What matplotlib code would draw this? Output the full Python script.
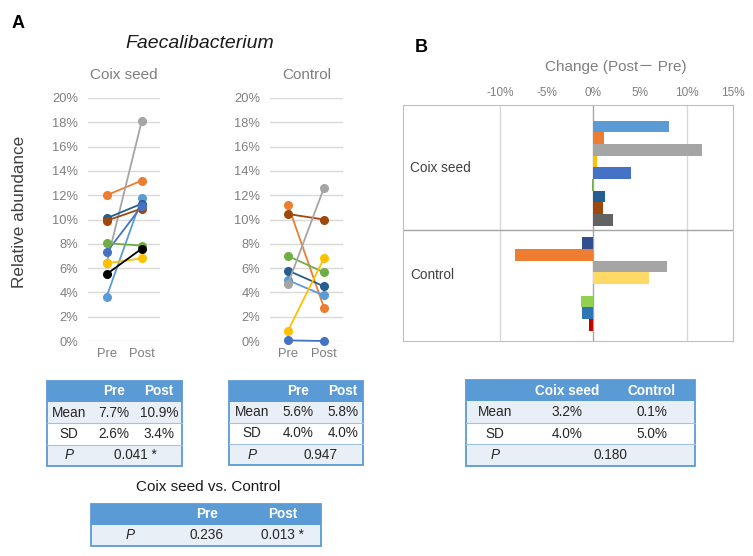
import numpy as np
import matplotlib
matplotlib.use('Agg')
import matplotlib.pyplot as plt
from matplotlib.patches import Rectangle

plt.rcParams['font.family'] = ['Liberation Sans', 'Noto Sans CJK JP', 'DejaVu Sans']

W, H = 753, 556

# 数据：Pre / Post 相对丰度 (%)
coix_colors = ['#ed7d31', '#a5a5a5', '#5b9bd5', '#255e91', '#9e480e', '#4472c4', '#70ad47', '#ffc000', '#000000']
coix_pre = [12.0, 6.4, 3.65, 10.1, 9.9, 7.3, 8.05, 6.4, 5.5]
coix_post = [13.2, 18.1, 11.75, 11.3, 10.9, 11.1, 7.85, 6.8, 7.6]

ctrl_colors = ['#ed7d31', '#9e480e', '#70ad47', '#255e91', '#5b9bd5', '#a5a5a5', '#ffc000', '#4472c4']
ctrl_pre = [11.2, 10.45, 7.0, 5.8, 5.0, 4.7, 0.85, 0.05]
ctrl_post = [2.75, 10.0, 5.65, 4.5, 3.75, 12.6, 6.8, 0.0]

time_labels = ['Pre', 'Post']
yticks_a = [0, 2, 4, 6, 8, 10, 12, 14, 16, 18, 20]

# 变化量 (Post - Pre)
coix_change = [8.07, 1.14, 11.7, 0.43, 4.0, -0.18, 1.29, 1.0, 2.07]
coix_change_colors = ['#5b9bd5', '#ed7d31', '#a5a5a5', '#ffc000', '#4472c4', '#70ad47', '#255e91', '#9e480e', '#636363']
ctrl_change = [-1.18, -8.4, 7.93, 5.96, 0.0, -1.36, -1.25, -0.46]
ctrl_change_colors = ['#2f4f8f', '#ed7d31', '#a5a5a5', '#ffd966', '#5b9bd5', '#92d050', '#2e75b6', '#c00000']
xticks_b = [-10, -5, 0, 5, 10, 15]

# 表格
tab_coix = [['', 'Pre', 'Post'], ['Mean', '7.7%', '10.9%'], ['SD', '2.6%', '3.4%'], ['P', '0.041 *']]
tab_ctrl = [['', 'Pre', 'Post'], ['Mean', '5.6%', '5.8%'], ['SD', '4.0%', '4.0%'], ['P', '0.947']]
tab_vs = [['', 'Pre', 'Post'], ['P', '0.236', '0.013 *']]
tab_change = [['', 'Coix seed', 'Control'], ['Mean', '3.2%', '0.1%'], ['SD', '4.0%', '5.0%'], ['P', '0.180']]

fig = plt.figure(figsize=(W / 100, H / 100), dpi=100)
bg = fig.add_axes([0, 0, 1, 1])
bg.set_xlim(0, W)
bg.set_ylim(H, 0)
bg.axis('off')


def px_axes(l, t, r, b):
    return fig.add_axes([l / W, 1 - b / H, (r - l) / W, (b - t) / H])


#折线图
def slope_plot(ax, pre, post, colors, xl, ytitle):
    for ytk in yticks_a:
        ax.axhline(ytk, color='#d9d9d9', lw=1, zorder=0)
    for i in range(len(pre)):
        ax.plot([0, 1], [pre[i], post[i]], color=colors[i], lw=1.3,
                marker='o', ms=5.5, clip_on=False, zorder=3)
    ax.set_xlim(xl)
    ax.set_ylim(0, 20)
    ax.set_yticks(yticks_a)
    ax.set_yticklabels(['%d%%' % v for v in yticks_a])
    ax.set_xticks([0, 1])
    ax.set_xticklabels(time_labels)
    ax.tick_params(length=0, labelsize=9.3, labelcolor='#7f7f7f')
    ax.tick_params(axis='y', pad=7)
    ax.tick_params(axis='x', pad=5)
    for s in ax.spines.values():
        s.set_visible(False)
    ax.set_title(ytitle, fontsize=11, color='#7f7f7f', pad=14)


ax1 = px_axes(88, 98, 160, 341)
slope_plot(ax1, coix_pre, coix_post, coix_colors, (-0.53, 1.52), 'Coix seed')
ax2 = px_axes(270, 98, 343, 341)
slope_plot(ax2, ctrl_pre, ctrl_post, ctrl_colors, (-0.5, 1.53), 'Control')

# 条形图
axb = px_axes(402.7, 105, 733.3, 340.7)
n1 = len(coix_change)
pos1 = np.arange(n1)
pos2 = np.arange(len(ctrl_change)) + n1 + 1
axb.barh(pos1, coix_change, height=1.0, color=coix_change_colors, zorder=3)
axb.barh(pos2, ctrl_change, height=1.0, color=ctrl_change_colors, zorder=3)
axb.set_ylim(18.36, -1.84)
axb.set_xlim(-20.4, 15)
axb.axvline(0, color='#a6a6a6', lw=1, zorder=2)
for v in [-10, 10]:
    axb.axvline(v, color='#d9d9d9', lw=1, zorder=1)
axb.axhline(8.87, color='#a6a6a6', lw=1, zorder=2)
axb.xaxis.tick_top()
axb.set_xticks(xticks_b)
axb.set_xticklabels(['%d%%' % v for v in xticks_b])
axb.set_yticks([])
axb.tick_params(length=0, labelsize=8.5, labelcolor='#7f7f7f', pad=4)
for s in axb.spines.values():
    s.set_color('#bfbfbf')
axb.text(-19.6, 3.6, 'Coix seed', fontsize=9.8, color='#404040', va='center')
axb.text(-19.6, 12.7, 'Control', fontsize=9.8, color='#404040', va='center')


#画表格
def draw_table(rows, left, right, top, row_h, col_x, span_x):
    nrow = len(rows)
    fs = 9.8
    for r in range(nrow):
        y0 = top + r * row_h
        if r == 0:
            fc = '#5b9bd5'
        elif r % 2 == 1:
            fc = '#e9eff7'
        else:
            fc = 'white'
        bg.add_patch(Rectangle((left, y0), right - left, row_h, fc=fc, ec='none'))
        if r > 1:
            bg.plot([left, right], [y0, y0], color='#9dc3e6', lw=0.8)
        yc = y0 + row_h / 2
        cells = rows[r]
        if len(cells) == 2 and cells[0] == 'P' and nrow > 2:
            bg.text(col_x[0], yc, 'P', style='italic', ha='center', va='center', fontsize=fs, color='#262626')
            bg.text(span_x, yc, cells[1], ha='center', va='center', fontsize=fs, color='#262626')
            continue
        for c in range(len(cells)):
            if r == 0:
                bg.text(col_x[c], yc, cells[c], ha='center', va='center', fontsize=fs,
                        color='white', fontweight='bold')
            else:
                st = 'italic' if cells[c] == 'P' else 'normal'
                bg.text(col_x[c], yc, cells[c], ha='center', va='center', fontsize=fs,
                        color='#262626', style=st)
    bg.add_patch(Rectangle((left, top), right - left, nrow * row_h, fc='none', ec='#5b9bd5', lw=1.3))


draw_table(tab_coix, 46.7, 181.7, 380.7, 21.3, [69, 114, 159], 135)
draw_table(tab_ctrl, 228.7, 363, 380.7, 21.1, [251.7, 298, 343], 320.7)
draw_table(tab_vs, 91, 320.7, 504, 20.9, [130, 206.7, 282.3], 0)
draw_table(tab_change, 466, 695.3, 380, 21.4, [495, 566.7, 651.7], 610)

# 文本
bg.text(18, 23, 'A', fontsize=13, fontweight='bold', ha='center', va='center')
bg.text(421, 47, 'B', fontsize=13, fontweight='bold', ha='center', va='center')
bg.text(200, 44, 'Faecalibacterium', fontsize=14, style='italic', ha='center', va='center', color='#1a1a1a')
bg.text(20, 212, 'Relative abundance', fontsize=12.3, rotation=90, ha='center', va='center', color='#404040')
bg.text(616, 67, 'Change (Post\uff0d Pre)', fontsize=11, ha='center', va='center', color='#7f7f7f')
bg.text(208, 487, 'Coix seed vs. Control', fontsize=11, ha='center', va='center', color='#1a1a1a')

plt.savefig('out.png', dpi=100)
